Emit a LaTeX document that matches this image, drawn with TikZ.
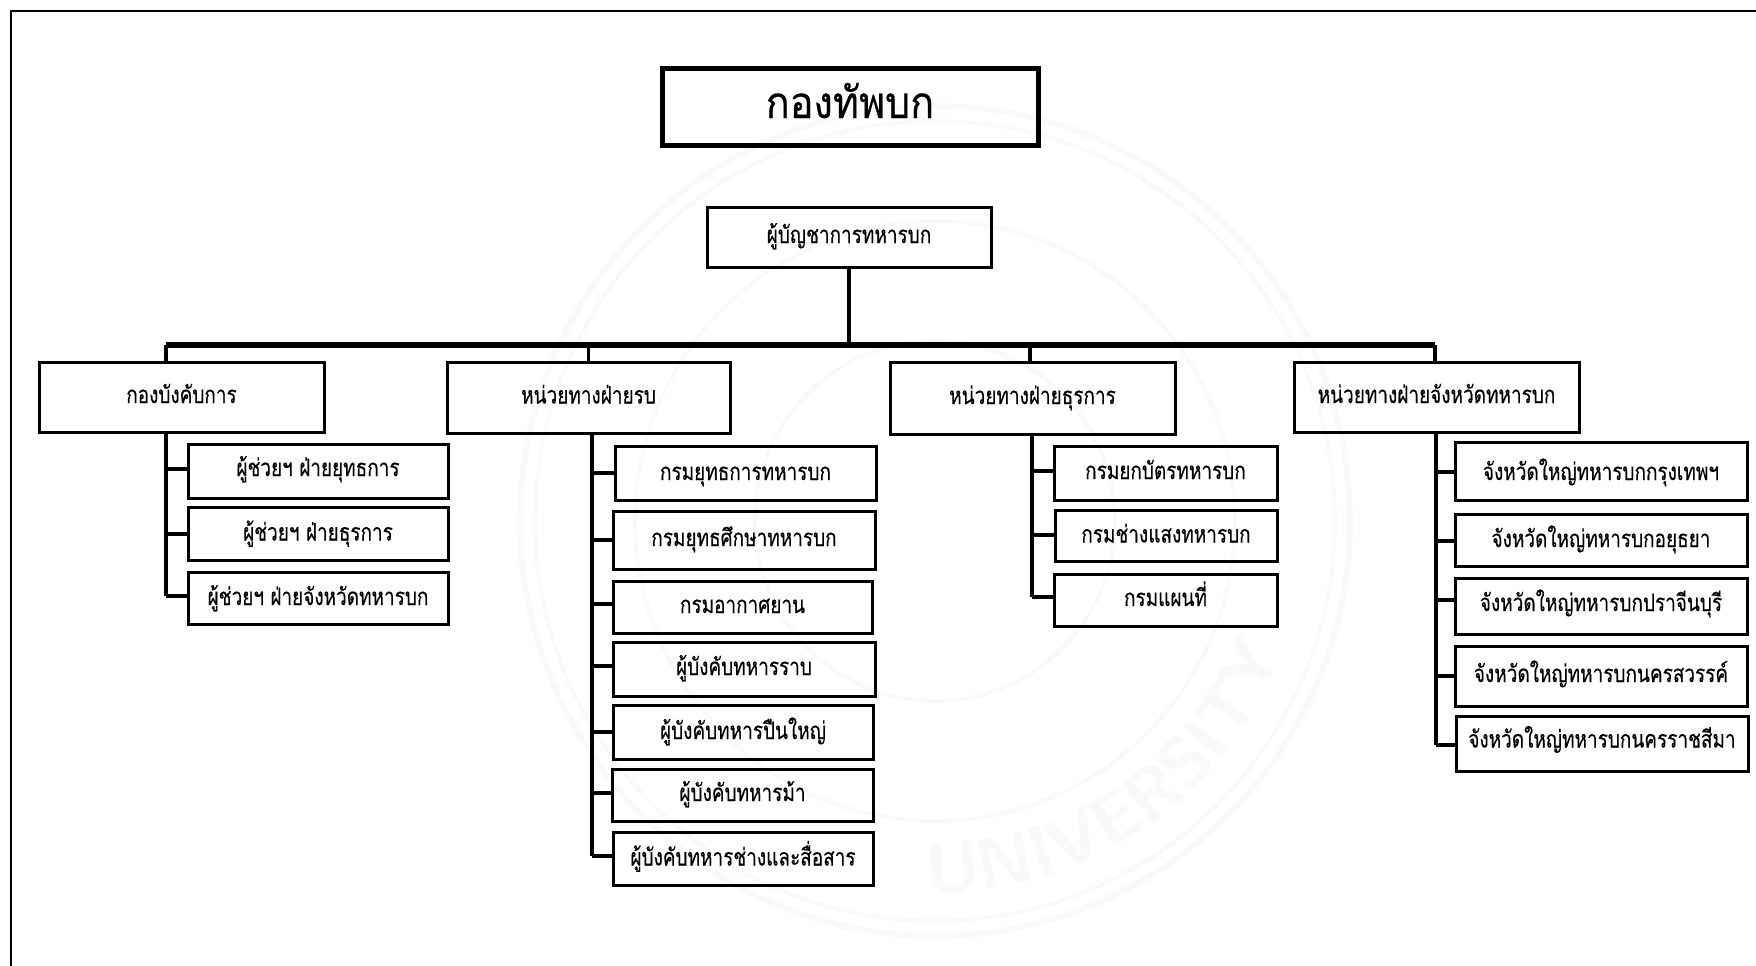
\documentclass[tikz,border=0pt]{standalone}
\usepackage{fontspec}
\usetikzlibrary{decorations.text}
\newfontfamily\thaifont[Script=Thai,FakeStretch=0.79,FakeBold=0.35]{Loma}
\newfontfamily\titlefont[Script=Thai,FakeStretch=0.9,FakeBold=0.4]{Loma}
\definecolor{wm}{HTML}{F9F9F9}
\tikzset{
  bxs/.style={draw=black,line width=3pt,fill=none,inner sep=0pt,outer sep=0pt,align=center,font=\thaifont\fontsize{24}{28}\selectfont},
  ttl/.style={bxs,line width=5pt,font=\titlefont\fontsize{44}{50}\selectfont},
  conn/.style={draw=black,line width=3.2pt,line join=miter},
  busline/.style={draw=black,line width=5.5pt},
  rootline/.style={draw=black,line width=4.2pt},
  frameline/.style={draw=black,line width=2.6pt},
  wmring/.style={draw=wm,line width=6pt}
}
% name x0 y0 x1 y1 raise text
\newcommand{\bx}[8][bxs]{%
  \pgfmathsetmacro{\bxw}{#4-#2}\pgfmathsetmacro{\bxh}{#5-#3}%
  \pgfmathsetmacro{\bxcx}{(#2+#4)/2}\pgfmathsetmacro{\bxcy}{(#3+#5)/2}%
  \node[#1,minimum width=\bxw pt,minimum height=\bxh pt,text height=0pt,text depth=0pt] (#8) at (\bxcx,\bxcy) {\raisebox{#6pt}{#7}};}
% spine-top name, child, y
\newcommand{\lk}[3]{%
  \coordinate (#2j) at (#1 |- 0,#3);
  \draw[conn] (#2j) -- (#2j -| #2.west);}
\begin{document}
\begin{tikzpicture}[x=1pt,y=-1pt]
\useasboundingbox (0,0) rectangle (1756,966);
% watermark
\coordinate (wmc) at (935,521);
\draw[wmring] (wmc) circle [radius=415pt];
\draw[wmring,line width=4pt] (wmc) circle [radius=400pt];
\draw[wmring,line width=4pt] (wmc) circle [radius=300pt];
\draw[wmring,line width=4pt] (wmc) circle [radius=180pt];
\path[decorate,decoration={text along path,text align=center,
  text={|\color{wm}\sffamily\bfseries\fontsize{72}{72}\selectfont|UNIVERSITY}}]
  plot[domain=88:24,samples=40] ({935+372*cos(\x)},{521+372*sin(\x)});
% frame
\coordinate (fa) at (11,966);
\coordinate (fb) at (11,11);
\coordinate (fc) at (1756,11);
\draw[frameline] (fa) -- (fb) -- (fc);
% top
\bx[ttl]{662}{69}{1038}{145}{-11}{กองทัพบก}{title}
\bx{707}{207}{991}{267}{-6}{ผู้บัญชาการทหารบก}{cmd}
\bx{39}{362}{324}{432}{-6}{กองบังคับการ}{a}
\bx{447}{362}{730}{433}{-6}{หน่วยทางฝ่ายรบ}{b}
\bx{890}{362}{1175}{434}{-6}{หน่วยทางฝ่ายธุรการ}{c}
\bx{1294}{362}{1579}{432}{-6}{หน่วยทางฝ่ายจังหวัดทหารบก}{d}
% column A
\bx{188}{444}{448}{498}{-5}{ผู้ช่วยฯ ฝ่ายยุทธการ}{a1}
\bx{188}{507}{448}{560}{-7}{ผู้ช่วยฯ ฝ่ายธุรการ}{a2}
\bx{188}{572}{448}{624}{-7}{ผู้ช่วยฯ ฝ่ายจังหวัดทหารบก}{a3}
% column B
\bx{615}{446}{876}{500}{-7}{กรมยุทธการทหารบก}{b1}
\bx{613}{511}{875}{569}{-6}{กรมยุทธศึกษาทหารบก}{b2}
\bx{613}{581}{872}{633}{-6}{กรมอากาศยาน}{b3}
\bx{613}{642}{875}{696}{-6}{ผู้บังคับทหารราบ}{b4}
\bx{613}{705}{873}{759}{-7}{ผู้บังคับทหารปืนใหญ่}{b5}
\bx{612}{769}{873}{821}{-6}{ผู้บังคับทหารม้า}{b6}
\bx{613}{832}{873}{885}{-7}{ผู้บังคับทหารช่างและสื่อสาร}{b7}
% column C
\bx{1054}{446}{1277}{500}{-6}{กรมยกบัตรทหารบก}{c1}
\bx{1055}{510}{1277}{561}{-7}{กรมช่างแสงทหารบก}{c2}
\bx{1054}{574}{1277}{626}{-6}{กรมแผนที่}{c3}
% column D
\bx{1455}{442}{1747}{500}{-9}{จังหวัดใหญ่ทหารบกกรุงเทพฯ}{d1}
\bx{1455}{514}{1747}{566}{-7}{จังหวัดใหญ่ทหารบกอยุธยา}{d2}
\bx{1455}{578}{1747}{634}{-5}{จังหวัดใหญ่ทหารบกปราจีนบุรี}{d3}
\bx{1455}{646}{1747}{706}{-6}{จังหวัดใหญ่ทหารบกนครสวรรค์}{d4}
\bx{1456}{716}{1748}{771}{-4}{จังหวัดใหญ่ทหารบกนครราชสีมา}{d5}
% bus
\coordinate (busl) at (166,345);
\coordinate (busr) at (1435,345);
\draw[rootline] (cmd.south) -- (cmd.south |- busl);
\draw[busline] (busl) -- (busr);
\draw[conn] (busl) -- (busl |- a.north);
\draw[conn] (b.north |- busl) -- (b.north);
\coordinate (cdrop) at (1030,345);
\draw[conn] (cdrop) -- (cdrop |- c.north);
\draw[conn] (busr) -- (busr |- d.north);
% spines
\coordinate (sa) at (166,432);
\coordinate (sb) at (592,433);
\coordinate (sc) at (1032,434);
\coordinate (sd) at (1436,432);
\lk{sa}{a1}{469}\lk{sa}{a2}{534}\lk{sa}{a3}{596}
\draw[conn] (sa) -- (a3j);
\lk{sb}{b1}{473}\lk{sb}{b2}{540}\lk{sb}{b3}{604}\lk{sb}{b4}{666}\lk{sb}{b5}{732}\lk{sb}{b6}{793}\lk{sb}{b7}{856}
\draw[conn] (sb) -- (b7j);
\lk{sc}{c1}{471}\lk{sc}{c2}{535}\lk{sc}{c3}{597}
\draw[conn] (sc) -- (c3j);
\lk{sd}{d1}{472}\lk{sd}{d2}{541}\lk{sd}{d3}{600}\lk{sd}{d4}{676}\lk{sd}{d5}{745}
\draw[conn] (sd) -- (d5j);
\end{tikzpicture}
\end{document}
